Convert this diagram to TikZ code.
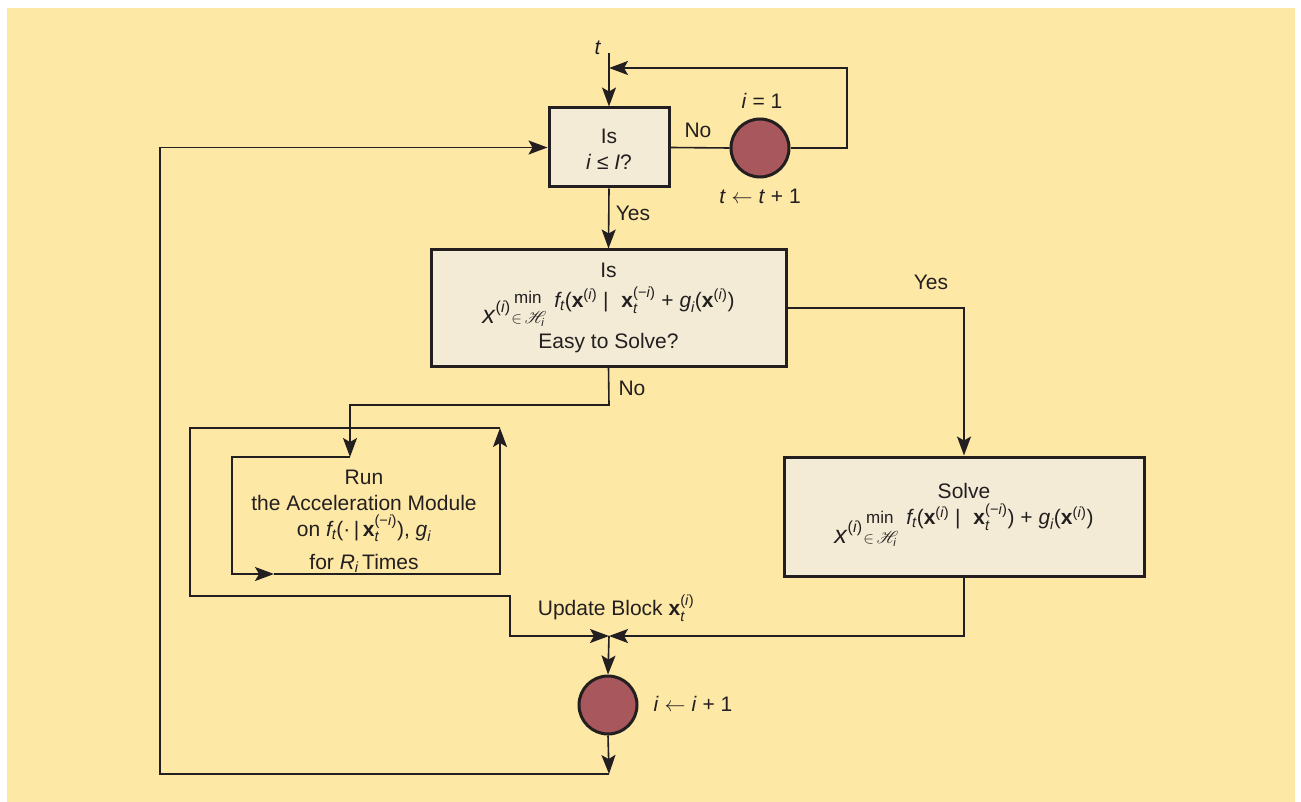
\RequirePackage{fix-cm}
\documentclass[tikz,border=0pt]{standalone}
\usepackage{amsmath}
\usepackage{mathrsfs}
\usepackage{fontspec}
\setmainfont{Liberation Sans}
\usetikzlibrary{arrows.meta,calc}
\definecolor{bgc}{HTML}{FEE8A6}
\definecolor{boxc}{HTML}{F3EBD5}
\definecolor{circc}{HTML}{A8585C}
\definecolor{linec}{HTML}{231F20}
\newcommand{\mi}[1]{\text{\itshape #1}}
\newcommand{\mbx}{\text{\bfseries x}}
\newcommand{\supi}{\text{(\textit{i})}}
\newcommand{\supmi}{\text{(−\textit{i})}}
\newcommand{\minpart}[1]{\raisebox{-#1}[0pt][0pt]{{\fontsize{25}{25}\selectfont\textit{x}}\raisebox{11pt}{\fontsize{16}{16}\selectfont(\textit{i})}\hspace{1pt}{\fontsize{16}{16}\selectfont\begin{tabular}[b]{@{}c@{}}\fontsize{17}{17}\selectfont min\\[3pt]$\in$\,$\mathscr{H}_{\mi{i}}$\end{tabular}}}\hspace{10pt}}
\begin{document}
\begin{tikzpicture}[x=1pt,y=-1pt,
  every node/.style={font=\fontsize{21}{26}\selectfont, text=linec},
  box/.style={draw=linec, line width=3pt, fill=boxc, align=center, inner sep=0pt},
  txt/.style={align=center, inner sep=0pt},
  dot/.style={circle, draw=linec, line width=3pt, fill=circc, minimum size=58pt, inner sep=0pt},
  conn/.style={draw=linec, line width=1.6pt},
  arr/.style={conn, -{Stealth[length=19pt,width=14pt,inset=4pt]}},
  lbl/.style={inner sep=0pt}]
\useasboundingbox (0,0) rectangle (1301,802);
\fill[white] (0,0) rectangle (1301,802);
\fill[bgc] (7,8) rectangle (1295,802);

% nodes
\node[box, minimum width=120pt, minimum height=79pt] (q1) at (609,147.5) {};
\node[txt] (q1t) at (609,149) {Is\\ \textit{i} ≤ \textit{I}?};
\node[box, minimum width=355pt, minimum height=116pt] (q2) at (608.5,308)
  {Is\\[4pt] \minpart{16pt}$\mi{f}_{\mi{t}}\text{(}\mbx^{\supi}\text{ |\,\, }\mbx_{\mi{t}}^{\supmi}\text{ + }\mi{g}_{\mi{i}}\text{(}\mbx^{\supi}\text{)}$\\[15pt] Easy to Solve?};
\node[box, minimum width=360pt, minimum height=119pt] (sv) at (964,516.5) {};
\node[txt] (svt) at (964,507)
  {Solve\\ \minpart{19pt}$\mi{f}_{\mi{t}}\text{(}\mbx^{\supi}\text{ |\,\, }\mbx_{\mi{t}}^{\supmi}\text{) + }\mi{g}_{\mi{i}}\text{(}\mbx^{\supi}\text{)}$};
\node[txt] (run) at (364,521)
  {Run\\ the Acceleration Module\\ on $\mi{f}_{\mi{t}}\text{(·\,|\,}\mbx_{\mi{t}}^{\supmi}\text{), }\mi{g}_{\mi{i}}$\\[7pt] for $\mi{R}_{\mi{i}}$\,Times};
\node[dot] (c1) at (760,148) {};
\node[dot] (c2) at (608,705) {};

% labels
\node[lbl] (tl) at (598,48) {\textit{t}};
\node[lbl] (no1) at (698,130) {No};
\node[lbl] (yes1) at (633,213) {Yes};
\node[lbl] (ieq) at (762,101) {\textit{i} = 1};
\node[lbl] (tinc) at (760,196) {\textit{t} $\leftarrow$ \textit{t} + 1};
\node[lbl] (yes2) at (931,282) {Yes};
\node[lbl] (no2) at (632,388) {No};
\node[lbl] (upd) at (616,608) {Update Block $\mbx_{\mi{t}}^{\supi}$};
\node[lbl] (iinc) at (693,704) {\textit{i} $\leftarrow$ \textit{i} + 1};

% coordinates
\coordinate (tstart) at (609,53);
\coordinate (tjoin) at (609,68);
\coordinate (rloop) at (847,148);
\coordinate (bot) at (609,774);
\coordinate (lft) at (160,774);
\coordinate (nojoin) at (609,405);
\coordinate (runin) at (350,457);
\coordinate (rtl) at (232,457);
\coordinate (rbl) at (232,574);
\coordinate (rmid) at (274,574);
\coordinate (rbr) at (500,574);
\coordinate (rtr) at (500,428);
\coordinate (otl) at (190,428);
\coordinate (obl) at (190,596);
\coordinate (obr) at (510,596);
\coordinate (odn) at (510,636);
\coordinate (merge) at (609,636);

% connectors
\draw[arr] (tstart) -- (q1.north);
\draw[conn] (q1.east) -- (c1.west);
\draw[arr] (c1.east) -- (rloop) |- (tjoin);
\draw[arr] (q1.south) -- (q2.north);
\draw[arr] (q2.east) -| (sv.north);
\draw[arr] (q2.south) -- (nojoin) -| (runin);
\draw[arr] (runin) -- (rtl) -- (rbl) -- (rmid);
\draw[arr] (rmid) -- (rbr) -- (rtr);
\draw[arr] (rtr) -- (otl) -- (obl) -- (obr) -- (odn) -- (merge);
\draw[arr] (sv.south) |- (merge);
\draw[arr] (merge) -- (c2.north);
\draw[arr] (c2.south) -- (bot);
\draw[arr] (bot) -- (lft) |- (q1.west);
\end{tikzpicture}
\end{document}
